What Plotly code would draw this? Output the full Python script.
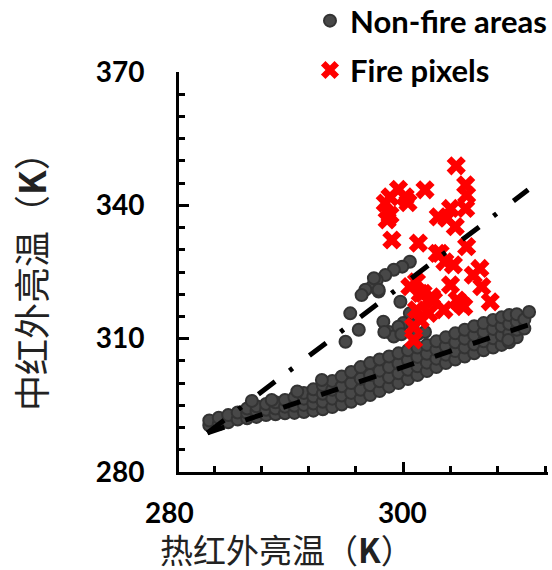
import plotly.graph_objects as go

# ---- data ----
band_x = [
    279.5, 279.5,
    280.5, 280.5,
    281.5, 281.5,
    282.5, 282.5,
    283.5, 283.5, 283.5,
    284.5, 284.5, 284.5,
    285.5, 285.5, 285.5,
    286.5, 286.5, 286.5,
    287.5, 287.5, 287.5,
    288.5, 288.5, 288.5,
    289.5, 289.5, 289.5, 289.5,
    290.5, 290.5, 290.5, 290.5,
    291.5, 291.5, 291.5, 291.5,
    292.5, 292.5, 292.5, 292.5,
    293.5, 293.5, 293.5, 293.5,
    294.5, 294.5, 294.5, 294.5,
    295.5, 295.5, 295.5, 295.5,
    296.5, 296.5, 296.5, 296.5,
    297.5, 297.5, 297.5, 297.5,
    298.5, 298.5, 298.5, 298.5,
    299.5, 299.5, 299.5, 299.5,
    300.5, 300.5, 300.5, 300.5,
    301.5, 301.5, 301.5, 301.5,
    302.5, 302.5, 302.5, 302.5,
    303.5, 303.5, 303.5, 303.5,
    304.5, 304.5, 304.5, 304.5,
    305.5, 305.5, 305.5, 305.5,
    306.5, 306.5, 306.5, 306.5,
    307.5, 307.5, 307.5, 307.5,
    308.5, 308.5, 308.5, 308.5,
    309.5, 309.5, 309.5, 309.5,
    310.4, 310.4, 310.4, 310.4,
    311.2, 311.2, 311.2, 311.2,
    312.0, 312.0, 312.0, 312.0,
    312.8, 312.8,
]
band_y = [
    290.5, 291.6,
    290.8, 292.2,
    291.2, 292.8,
    291.8, 293.4,
    292.1, 293.3, 294.3,
    292.4, 293.7, 294.8,
    292.8, 294.0, 295.3,
    293.0, 294.3, 295.7,
    293.2, 294.7, 296.2,
    293.3, 294.9, 296.8,
    293.5, 295.1, 296.5, 297.8,
    293.8, 295.4, 297.0, 298.6,
    294.1, 295.8, 297.6, 299.5,
    294.6, 296.5, 298.5, 300.5,
    295.2, 297.2, 299.3, 301.5,
    295.8, 297.8, 300.0, 302.5,
    296.5, 298.5, 301.0, 303.6,
    297.3, 299.5, 301.8, 304.5,
    298.2, 300.4, 302.8, 305.3,
    299.2, 301.3, 303.6, 306.0,
    300.0, 302.2, 304.4, 306.7,
    300.9, 303.0, 305.2, 307.4,
    301.8, 303.8, 305.9, 308.0,
    302.7, 304.6, 306.6, 308.6,
    303.6, 305.5, 307.5, 309.4,
    304.5, 306.4, 308.3, 310.3,
    305.3, 307.2, 309.2, 311.2,
    306.0, 308.0, 310.0, 312.0,
    306.7, 308.7, 310.8, 312.8,
    307.4, 309.4, 311.5, 313.5,
    308.0, 310.1, 312.2, 314.2,
    308.6, 310.7, 312.8, 314.8,
    309.2, 311.2, 313.3, 315.3,
    310.3, 312.0, 313.8, 315.5,
    312.3, 314.3,
]
branch_x = [300.7, 299.9, 299.0, 298.1, 297.2, 296.7, 296.0, 295.6, 297.4, 294.4,
            295.3, 293.9, 299.7, 297.9, 300.7, 300.0, 298.5, 301.5, 299.0, 302.3,
            296.9, 297.4, 299.5, 286.1, 288.8, 291.4, 284.0, 313.3, 311.1,
            299.8, 301.0, 298.0]
branch_y = [327.3, 326.2, 325.5, 324.3, 323.2, 321.7, 321.0, 319.8, 320.6, 315.7,
            312.0, 309.3, 318.3, 313.8, 315.7, 313.5, 311.5, 311.0, 310.5, 311.5,
            323.6, 321.0, 312.7, 296.2, 298.1, 300.7, 296.0, 316.0, 309.7,
            311.0, 313.0, 311.5]

fire_x = [305.6, 299.5, 298.6, 300.2, 298.1, 300.5, 298.6, 298.3, 302.3, 306.6,
          306.7, 306.6, 305.0, 303.7, 304.6, 305.5, 298.8, 301.6, 306.7, 303.6,
          304.4, 305.3, 308.1, 307.4, 301.4, 300.7, 305.0, 308.3, 302.1, 303.0,
          305.7, 309.2, 306.4, 301.4, 302.7, 301.8, 304.3, 301.1, 301.1, 303.9,
          301.8, 303.2, 306.0]
fire_y = [348.9, 343.6, 341.9, 341.9, 340.5, 340.6, 337.8, 336.7, 343.5, 344.6,
          342.3, 339.3, 339.3, 337.4, 337.1, 335.2, 332.2, 331.5, 330.7, 329.2,
          327.3, 326.6, 325.8, 324.3, 322.8, 321.7, 322.1, 321.7, 320.2, 319.4,
          318.7, 318.3, 317.2, 316.5, 315.7, 314.2, 316.5, 312.7, 309.7, 329.2,
          320.2, 318.7, 318.0]

fit_x = [279.3, 313.2]
fit_lower_y = [288.8, 313.1]
fit_upper_y = [288.8, 343.5]

y_ticks = [280, 310, 340, 370]
x_tick_labels = ["280", "300"]
x_tick_label_paper = [-0.027, 0.607]

x_range = [276.3, 315.3]
y_range = [280, 370]

TICK_FONT = dict(family="Lato, Open Sans, sans-serif", size=28, color="black",
                 weight="bold")
CJK = "Noto Sans CJK SC"

fig = go.Figure()
fig.add_trace(go.Scatter(
    x=band_x + branch_x, y=band_y + branch_y, mode="markers",
    name="Non-fire areas", legendgroup="a",
    marker=dict(symbol="circle", size=12, color="#484848",
                line=dict(color="#333333", width=2)),
))
fig.add_trace(go.Scatter(
    x=fire_x, y=fire_y, mode="markers", name="Fire pixels", legendgroup="b",
    marker=dict(symbol="x", size=17, color="#ff0000", line=dict(width=0)),
))
fig.add_trace(go.Scatter(
    x=fit_x, y=fit_lower_y, mode="lines", showlegend=False,
    line=dict(color="black", width=5, dash="18px,22px"),
))
fig.add_trace(go.Scatter(
    x=fit_x, y=fit_upper_y, mode="lines", showlegend=False,
    line=dict(color="black", width=5, dash="21px,18px,4px,21px"),
))

annotations = []
for lab, pos in zip(x_tick_labels, x_tick_label_paper):
    annotations.append(dict(x=pos, y=-0.1, xref="paper", yref="paper", text=lab,
                            showarrow=False, xanchor="center", yanchor="middle",
                            font=TICK_FONT))
annotations.append(dict(x=0.293, y=-0.192, xref="paper", yref="paper",
                        text="热红外亮温（<b>K</b>）", showarrow=False,
                        xanchor="center", yanchor="middle",
                        font=dict(family=CJK, size=33, color="#222")))
annotations.append(dict(x=-0.404, y=0.5, xref="paper", yref="paper",
                        text="中红外亮温（<b>K</b>）", showarrow=False, textangle=-90,
                        xanchor="center", yanchor="middle",
                        font=dict(family=CJK, size=36, color="#222")))

fig.update_layout(
    width=552, height=570,
    margin=dict(l=179, r=4, t=72, b=98, autoexpand=False),
    plot_bgcolor="white", paper_bgcolor="white",
    showlegend=True,
    legend=dict(x=0.355, y=1.195, xanchor="left", yanchor="top",
                bgcolor="rgba(0,0,0,0)", traceorder="grouped", tracegroupgap=6,
                font=dict(family="Lato, Open Sans, sans-serif", size=31,
                          color="black", weight="bold"),
                itemwidth=30),
    annotations=annotations,
    xaxis=dict(range=x_range, showline=True, linecolor="black", linewidth=3,
               showgrid=False, zeroline=False, ticks="inside", tickvals=[300],
               ticklen=10, tickwidth=3, tickcolor="black", showticklabels=False,
               automargin=False,
               minor=dict(dtick=5, tick0=280, ticks="inside", ticklen=6,
                          tickwidth=3, tickcolor="black", showgrid=False)),
    yaxis=dict(range=y_range, showline=True, linecolor="black", linewidth=3,
               showgrid=False, zeroline=False, ticks="inside", tickvals=y_ticks,
               ticklen=10, tickwidth=3, tickcolor="black", automargin=False,
               tickfont=TICK_FONT, ticklabelstandoff=26,
               minor=dict(dtick=5, tick0=280, ticks="inside", ticklen=6,
                          tickwidth=3, tickcolor="black", showgrid=False)),
)

fig.write_html(
    "out.html",
    config={"displayModeBar": False},
    post_script="document.body.style.margin='0';document.body.style.padding='0';"
                "document.body.style.overflow='hidden';",
)
